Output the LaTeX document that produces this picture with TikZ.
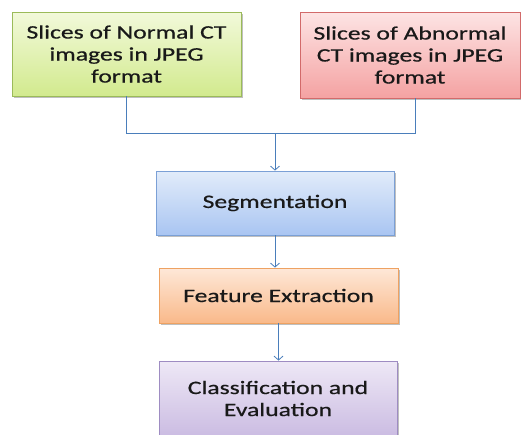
\documentclass[tikz,border=0pt]{standalone}
\usepackage{fontspec}
\setmainfont{Carlito}[FakeStretch=1.35,FakeBold=0.6]
\usetikzlibrary{arrows.meta,shadows}
\definecolor{linecol}{HTML}{4A7EBB}
\definecolor{greentop}{HTML}{F2F9DA}
\definecolor{greenbot}{HTML}{D2EA8E}
\definecolor{greenline}{HTML}{9BBB59}
\definecolor{redtop}{HTML}{FDE4E4}
\definecolor{redbot}{HTML}{F4A2A2}
\definecolor{redline}{HTML}{D26A6A}
\definecolor{bluetop}{HTML}{E2ECFA}
\definecolor{bluebot}{HTML}{A9C5F2}
\definecolor{blueline}{HTML}{7BA0D6}
\definecolor{orangetop}{HTML}{FEE8D8}
\definecolor{orangebot}{HTML}{F9B98A}
\definecolor{orangeline}{HTML}{EEA262}
\definecolor{purpletop}{HTML}{EEE8F6}
\definecolor{purplebot}{HTML}{CBBCE2}
\definecolor{purpleline}{HTML}{9E8CC2}
\tikzset{
  box/.style={draw, line width=0.8pt, align=center, inner sep=0pt,
    font=\fontsize{19}{22}\selectfont, text=black!90,
    drop shadow={shadow xshift=1.5pt, shadow yshift=-1.5pt, opacity=0.25, fill=black}},
  conn/.style={draw=linecol, line width=0.8pt},
  arr/.style={conn, -{Straight Barb[length=4pt,width=9pt]}},
}
\begin{document}
\begin{tikzpicture}[x=1pt,y=-1pt]
\useasboundingbox (0,0) rectangle (521,434);
\clip (0,0) rectangle (521,434);
\fill[white] (0,0) rectangle (521,434);
\node[box, draw=greenline, top color=greentop, bottom color=greenbot,
  minimum width=229pt, minimum height=84pt] (normal) at (126.5,54)
  {Slices of Normal CT\\images in JPEG\\format};
\node[box, draw=redline, top color=redtop, bottom color=redbot,
  minimum width=220pt, minimum height=86pt] (abnormal) at (410,55)
  {Slices of Abnormal\\CT images in JPEG\\format};
\node[box, draw=blueline, top color=bluetop, bottom color=bluebot,
  minimum width=238pt, minimum height=64pt] (seg) at (275,203)
  {Segmentation};
\node[box, draw=orangeline, top color=orangetop, bottom color=orangebot,
  minimum width=239pt, minimum height=55pt] (feat) at (278.5,295.5)
  {Feature Extraction};
\node[box, draw=purpleline, top color=purpletop, bottom color=purplebot,
  minimum width=238pt, minimum height=75pt] (cls) at (278,398.5)
  {Classification and\\Evaluation};
\coordinate (j) at (275,133);
\draw[conn] (normal.south) -- (normal.south |- j) -- ([xshift=5pt]abnormal.south |- j) -- ([xshift=5pt]abnormal.south);
\draw[arr] (j) -- (seg.north);
\draw[arr] (seg.south) -- (seg.south |- feat.north);
\draw[arr] (feat.south) -- (feat.south |- cls.north);
\end{tikzpicture}
\end{document}
